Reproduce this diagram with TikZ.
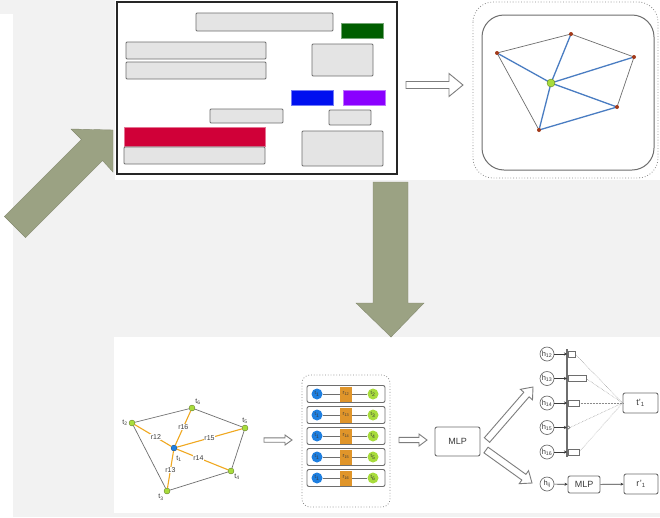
\documentclass[tikz,border=0pt]{standalone}
\usepackage{fontspec}
\setmainfont{Liberation Sans}
\usetikzlibrary{calc,arrows.meta}

\definecolor{pageGray}{HTML}{F2F2F2}
\definecolor{barFill}{HTML}{E4E4E4}
\definecolor{barLine}{HTML}{6E6E6E}
\definecolor{docGreen}{HTML}{005E00}
\definecolor{docBlue}{HTML}{0010F0}
\definecolor{docPurple}{HTML}{8A00FF}
\definecolor{docRed}{HTML}{D00038}
\definecolor{oliveArrow}{HTML}{9BA283}
\definecolor{edgeBlue}{HTML}{4A7DC2}
\definecolor{dotRed}{HTML}{A33A1A}
\definecolor{nodeGreen}{HTML}{A8DC3C}
\definecolor{nodeBlue}{HTML}{1E7FE0}
\definecolor{edgeOrange}{HTML}{F0A820}
\definecolor{boxOrange}{HTML}{E0952A}
\definecolor{inkGray}{HTML}{3A3A3A}

%% hollow block arrow: tail, tip, shaft half width, head half width, head length
\newcommand{\hollowArrow}[5]{%
  \coordinate (hTail) at (#1);
  \coordinate (hTip) at (#2);
  \coordinate (hBase) at ($(hTip)!#5!(hTail)$);
  \draw[hollowStyle]
    ($(hTail)!#3!90:(hTip)$) -- ($(hBase)!#3!90:(hTip)$) -- ($(hBase)!#4!90:(hTip)$)
    -- (hTip) -- ($(hBase)!#4!-90:(hTip)$) -- ($(hBase)!#3!-90:(hTip)$)
    -- ($(hTail)!#3!-90:(hTip)$) -- cycle;
}

\begin{document}
\begin{tikzpicture}[x=1pt,y=-1pt,%%
  barStyle/.style={draw=barLine,fill=barFill,line width=0.9pt,rounded corners=1pt},
  colourBar/.style={fill=#1,draw=#1!55,line width=0.8pt},
  oliveStyle/.style={fill=oliveArrow,draw=oliveArrow!85!black,line width=0.4pt},
  hollowStyle/.style={draw=barLine!90,fill=white,line width=0.9pt,line join=miter},
  dottedPanel/.style={draw=barLine!80,dotted,line width=0.8pt,rounded corners=#1},
  grayEdge/.style={draw=barLine,line width=0.7pt},
  blueEdge/.style={draw=edgeBlue,line width=1.3pt},
  orangeEdge/.style={draw=edgeOrange,line width=1.1pt},
  smallNode/.style={circle,fill=#1,draw=#1!50!black,line width=0.3pt,minimum size=6,inner sep=0pt},
  nodeLabel/.style={font=\fontsize{7}{7}\selectfont,text=inkGray,inner sep=1pt},
  edgeLabel/.style={fill=white,inner sep=0.5pt,font=\fontsize{7}{7}\selectfont,text=inkGray},
  rowBox/.style={draw=barLine,fill=white,line width=0.9pt,rounded corners=2pt,minimum width=78,minimum height=17},
  rowDot/.style={circle,fill=#1,minimum size=11,inner sep=0pt,font=\fontsize{5}{5}\selectfont,text=inkGray},
  rowSquare/.style={fill=boxOrange,minimum width=12,minimum height=15,inner sep=0pt,font=\fontsize{5.5}{5.5}\selectfont,text=inkGray},
  rowLine/.style={draw=barLine,line width=0.8pt},
  mlpBox/.style={draw=barLine,fill=white,line width=0.9pt,rounded corners=2pt,font=\fontsize{9}{9}\selectfont,text=inkGray},
  hCircle/.style={circle,draw=barLine,line width=0.7pt,minimum size=14,inner sep=0pt,font=\fontsize{7.5}{7.5}\selectfont,text=inkGray},
  smallArrow/.style={draw=inkGray,line width=0.7pt,-{Stealth[length=3pt,width=3pt]}},
  weightBar/.style={draw=barLine,fill=white,line width=0.6pt},
  attnLine/.style={draw=barLine!80,densely dotted,line width=0.5pt}
]
%%
%% Backgrounds.
\useasboundingbox (0,0) rectangle (660,517);
\fill[pageGray] (0,0) rectangle (660,517);
\fill[white] (0,14) rectangle (13,517);
\fill[white] (115,0) rectangle (660,180);
\fill[white] (114,337) rectangle (660,513);
%%
%% The document page with its blocks.
\draw[line width=1.3pt,draw=black!85] (117,2) rectangle (397,174);
\draw[barStyle] (196,13) rectangle (333,31);
\draw[colourBar=docGreen] (341,23) rectangle (383,38);
\draw[barStyle] (126,42) rectangle (266,59);
\draw[barStyle] (126,62) rectangle (266,79);
\draw[barStyle] (312,44) rectangle (373,76);
\draw[colourBar=docBlue] (291,90) rectangle (333,105);
\draw[colourBar=docPurple] (343,90) rectangle (385,105);
\draw[barStyle] (210,109) rectangle (283,123);
\draw[barStyle] (329,110) rectangle (371,125);
\draw[colourBar=docRed] (124,127) rectangle (265,146);
\draw[barStyle] (124,147) rectangle (265,164);
\draw[barStyle] (302,131) rectangle (383,166);
%%
%% Olive block arrows.
\path[oliveStyle] (4.4,216.4) -- (81.4,139.4) -- (71,129) -- (113,130)
  -- (113,172) -- (102.6,160.6) -- (25.6,237.6) -- cycle;
\path[oliveStyle] (373,182) -- (408,182) -- (408,303) -- (424,303)
  -- (391,337) -- (356,303) -- (373,303) -- cycle;
%%
%% Page graph panel.
\draw[dottedPanel=20pt] (473,2) rectangle (658,178);
\draw[grayEdge,line width=1pt,rounded corners=22pt] (482,15) rectangle (654,170);
\coordinate (gA) at (497,53);
\coordinate (gB) at (571,34);
\coordinate (gC) at (634,57);
\coordinate (gD) at (617,107);
\coordinate (gE) at (539,130);
\coordinate (gM) at (551,83);
\draw[grayEdge] (gA) -- (gB) -- (gC) -- (gD);
\draw[grayEdge] (gA) -- (gE);
\foreach \v in {gA,gB,gC,gD,gE}
  \draw[blueEdge] (gM) -- (\v);
\draw[blueEdge] (gE) -- (gD);
\foreach \v in {gA,gB,gC,gD,gE}
  \fill[dotRed] (\v) circle (2pt);
\filldraw[fill=nodeGreen,draw=nodeGreen!60!black,line width=0.4pt] (gM) circle (4pt);
%%
%% Hollow arrows between the panels.
\coordinate (docOut) at (406,85);
\coordinate (graphIn) at (463,85);
\hollowArrow{docOut}{graphIn}{3.5pt}{11.5pt}{14pt}
%%
%% Star graph around t1.
\node[smallNode=nodeBlue] (t1) at (174,448) {};
\node[smallNode=nodeGreen,label={[nodeLabel]left:t\textsubscript{2}}] (t2) at (132,423) {};
\node[smallNode=nodeGreen,label={[nodeLabel]above right:t\textsubscript{6}}] (t6) at (192,408) {};
\node[smallNode=nodeGreen,label={[nodeLabel]above:t\textsubscript{5}}] (t5) at (245,428) {};
\node[smallNode=nodeGreen,label={[nodeLabel]below right:t\textsubscript{4}}] (t4) at (231,471) {};
\node[smallNode=nodeGreen,label={[nodeLabel]below left:t\textsubscript{3}}] (t3) at (167,491) {};
\node[nodeLabel] at (179,459) {t\textsubscript{1}};
\draw[grayEdge] (t2) -- (t6) -- (t5) -- (t4) -- (t3) -- (t2);
\draw[orangeEdge] (t1) -- (t2) node[pos=0.42,edgeLabel] {r12};
\draw[orangeEdge] (t1) -- (t6) node[pos=0.52,edgeLabel] {r16};
\draw[orangeEdge] (t1) -- (t5) node[pos=0.5,edgeLabel] {r15};
\draw[orangeEdge] (t1) -- (t4) node[pos=0.42,edgeLabel] {r14};
\draw[orangeEdge] (t1) -- (t3) node[pos=0.52,edgeLabel] {r13};
\coordinate (starOut) at (264,440);
\coordinate (rowsIn) at (292,440);
\hollowArrow{starOut}{rowsIn}{2.2pt}{5pt}{7pt}
%%
%% Edge triples.
\draw[dottedPanel=8pt] (302,375) rectangle (390,507);
\foreach \k [count=\i] in {2,...,6} {
  \pgfmathsetmacro\rowY{394+21*(\i-1)}
  \node[rowBox] (row\i) at (346,\rowY) {};
  \node[rowDot=nodeBlue] (rs\i) at (317,\rowY) {t\textsubscript{1}};
  \node[rowSquare] (re\i) at (346,\rowY) {r\textsubscript{1\k}};
  \node[rowDot=nodeGreen] (rt\i) at (373,\rowY) {t\textsubscript{\k}};
  \draw[rowLine] (rs\i) -- (re\i) -- (rt\i);
}
\node[mlpBox,minimum width=45,minimum height=29] (mlpA) at (457.5,441.5) {MLP};
\coordinate (rowsOut) at (399,440);
\coordinate (mlpIn) at (427,440);
\hollowArrow{rowsOut}{mlpIn}{2.6pt}{6pt}{8pt}
\coordinate (mlpUp) at (487,440);
\coordinate (attnIn) at (533,387);
\hollowArrow{mlpUp}{attnIn}{3.5pt}{8pt}{10pt}
\coordinate (mlpDown) at (486,450);
\coordinate (hijIn) at (532,483);
\hollowArrow{mlpDown}{hijIn}{3.5pt}{8pt}{10pt}
%%
%% Attention over the edge features.
\node[mlpBox,minimum width=35,minimum height=20] (tOut) at (640.5,403) {t'\textsubscript{1}};
\coordinate (spineTop) at (567,349);
\coordinate (spineBot) at (567,457);
\draw[grayEdge,line width=1.1pt] (spineTop) -- (spineBot);
\foreach \k [count=\i] in {12,...,16} {
  \pgfmathsetmacro\hY{354+24.5*(\i-1)}
  \node[hCircle] (h\k) at (547,\hY) {h\textsubscript{\k}};
  \coordinate (bar\k) at (567,\hY);
  \draw[smallArrow] (h\k) -- (bar\k);
}
\foreach \k/\w in {12/7,13/18,14/11,16/11} {
  \draw[attnLine] ($(bar\k)+(1+\w,0)$) -- (tOut.west);
  \draw[weightBar] ($(bar\k)+(1,-3)$) rectangle ($(bar\k)+(1+\w,3)$);
}
\draw[attnLine] ($(bar15)+(3,0)$) -- (tOut.west);
\draw[weightBar] ($(bar15)+(1.5,0)$) circle (1.5pt);
%%
%% Edge update.
\node[hCircle] (hij) at (547,484) {h\textsubscript{ij}};
\node[mlpBox,minimum width=32,minimum height=17] (mlpB) at (584,484.5) {MLP};
\node[mlpBox,minimum width=34,minimum height=20] (rOut) at (641,484) {r'\textsubscript{1}};
\draw[smallArrow] (hij) -- (mlpB);
\draw[smallArrow] (mlpB) -- (rOut);
\end{tikzpicture}
\end{document}
